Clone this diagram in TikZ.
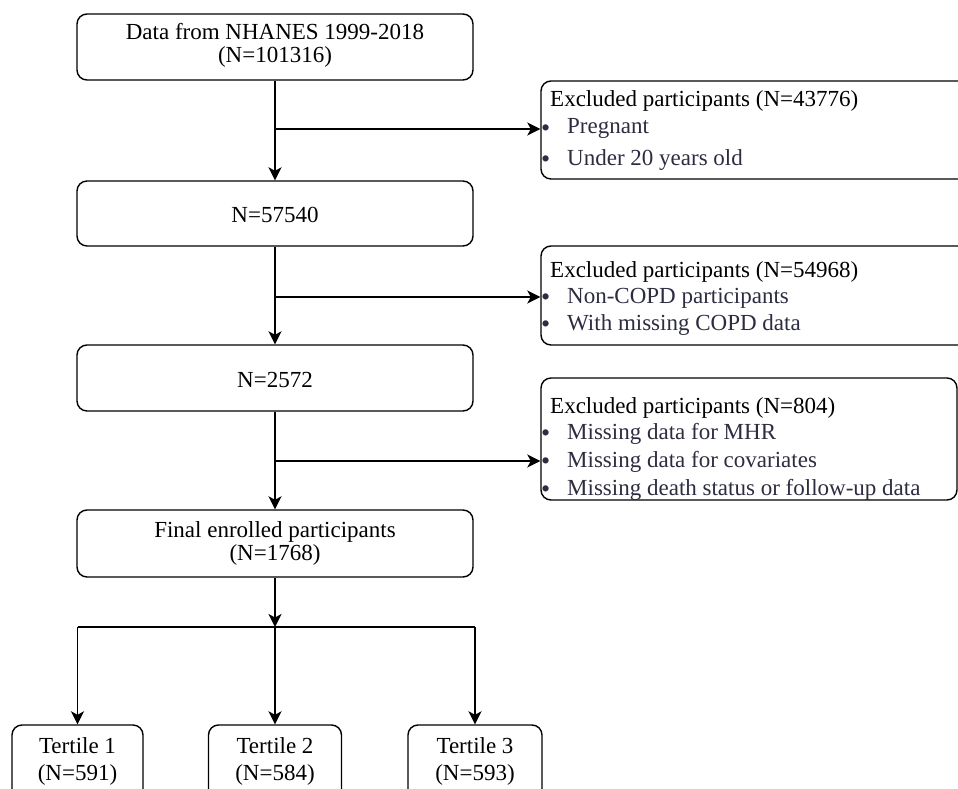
\documentclass[tikz,border=0pt]{standalone}
\usepackage{fontspec}
\setmainfont{Liberation Serif}
\usetikzlibrary{arrows.meta}
\definecolor{bul}{RGB}{45,45,65}
\begin{document}
\begin{tikzpicture}[x=1pt,y=-1pt,
 box/.style={draw=black, line width=1.4pt, rounded corners=10pt, inner sep=0pt},
 txt/.style={anchor=base, inner sep=0pt, font=\fontsize{23}{23}\selectfont},
 ltxt/.style={anchor=base west, inner sep=0pt, font=\fontsize{23}{23}\selectfont},
 btxt/.style={ltxt, text=bul},
 bdot/.style={anchor=base west, inner sep=0pt, font=\fontsize{26}{26}\selectfont, text=bul},
 arr/.style={line width=1.8pt, -{Stealth[length=13pt,width=13pt,inset=3.5pt]}},
 ln/.style={line width=1.8pt}]
\clip (0,0) rectangle (958,789);
\fill[white] (0,0) rectangle (958,789);
% main boxes
\node[box, minimum width=396pt, minimum height=66pt] (A) at (275,47) {};
\node[box, minimum width=396pt, minimum height=65pt] (B) at (275,213.5) {};
\node[box, minimum width=396pt, minimum height=66pt] (C) at (275,378) {};
\node[box, minimum width=396pt, minimum height=67pt] (D) at (275,543.5) {};
\node[txt] (At1) at (275,40) {Data from NHANES 1999-2018};
\node[txt] (At2) at (275,63) {(N=101316)};
\node[txt] (Bt) at (275,222) {N=57540};
\node[txt] (Ct) at (275,387) {N=2572};
\node[txt] (Dt1) at (275,537) {Final enrolled participants};
\node[txt] (Dt2) at (275,560) {(N=1768)};
% excluded boxes
\node[box, minimum width=429pt, minimum height=98pt] (E1) at (755.5,130) {};
\node[box, minimum width=429pt, minimum height=99pt] (E2) at (755.5,295.5) {};
\node[box, minimum width=416pt, minimum height=122pt] (E3) at (749,439) {};
\node[ltxt] (E1t) at (550,107) {Excluded participants (N=43776)};
\node[bdot] (E1d1) at (541,136) {•};
\node[btxt] (E1a) at (567,134) {Pregnant};
\node[bdot] (E1d2) at (541,167) {•};
\node[btxt] (E1b) at (567,165) {Under 20 years old};
\node[ltxt] (E2t) at (550,277) {Excluded participants (N=54968)};
\node[bdot] (E2d1) at (541,305) {•};
\node[btxt] (E2a) at (567,303) {Non-COPD participants};
\node[bdot] (E2d2) at (541,332) {•};
\node[btxt] (E2b) at (567,330) {With missing COPD data};
\node[ltxt] (E3t) at (550,413) {Excluded participants (N=804)};
\node[bdot] (E3d1) at (541,441) {•};
\node[btxt] (E3a) at (567,439) {Missing data for MHR};
\node[bdot] (E3d2) at (541,469) {•};
\node[btxt] (E3b) at (567,467) {Missing data for covariates};
\node[bdot] (E3d3) at (541,497) {•};
\node[btxt] (E3c) at (567,495) {Missing death status or follow-up data};
% tertiles
\node[box, minimum width=131pt, minimum height=80pt] (T1) at (77.5,765) {};
\node[box, minimum width=133pt, minimum height=80pt] (T2) at (275,765) {};
\node[box, minimum width=134pt, minimum height=80pt] (T3) at (475,765) {};
\node[txt] (T1a) at (77.5,753) {Tertile 1};
\node[txt] (T1b) at (77.5,780) {(N=591)};
\node[txt] (T2a) at (275,753) {Tertile 2};
\node[txt] (T2b) at (275,780) {(N=584)};
\node[txt] (T3a) at (475,753) {Tertile 3};
\node[txt] (T3b) at (475,780) {(N=593)};
% spine
\draw[arr] (A.south) -- (B.north);
\draw[arr] (B.south) -- (C.north);
\draw[arr] (C.south) -- (D.north);
\coordinate (j1) at (275,129);
\coordinate (j2) at (275,297);
\coordinate (j3) at (275,461);
\draw[arr] (j1) -- (j1 -| E1.west);
\draw[arr] (j2) -- (j2 -| E2.west);
\draw[arr] (j3) -- (j3 -| E3.west);
% branch
\coordinate (br) at (275,627);
\coordinate (bl) at (T1.north |- br);
\coordinate (brr) at (T3.north |- br);
\draw[arr] (D.south) -- (br);
\draw[ln] (bl) -- (brr);
\draw[arr] (bl) -- (T1.north);
\draw[arr] (br) -- (T2.north);
\draw[arr] (brr) -- (T3.north);
\end{tikzpicture}
\end{document}
